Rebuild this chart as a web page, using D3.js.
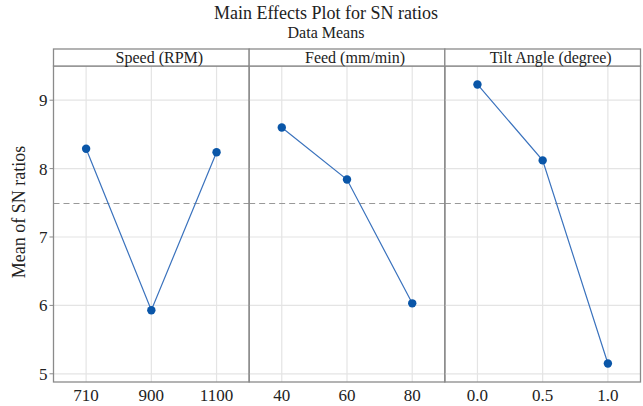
<!DOCTYPE html>
<html>
<head>
<meta charset="utf-8">
<script src="https://cdn.jsdelivr.net/npm/d3@7"></script>
<style>
    body { margin: 0; background: #fff; }
    svg { display: block; font-family: "Liberation Serif", "DejaVu Serif", serif; }
</style>
</head>
<body>
<svg id="chart" width="643" height="406"></svg>
<script>
// factor names and levels
const factors = ["Speed (RPM)", "Feed (mm/min)", "Tilt Angle (degree)"];
const speedLevels = ["710", "900", "1100"];
const feedLevels = ["40", "60", "80"];
const tiltLevels = ["0.0", "0.5", "1.0"];

// mean SN ratios per level
const speedMeans = [8.29, 5.93, 8.24];
const feedMeans = [8.60, 7.84, 6.03];
const tiltMeans = [9.23, 8.12, 5.15];

const overallMean = 7.49;
const yTicks = [5, 6, 7, 8, 9];

let panels = [
    { name: factors[0], levels: speedLevels, means: speedMeans },
    { name: factors[1], levels: feedLevels, means: feedMeans },
    { name: factors[2], levels: tiltLevels, means: tiltMeans }
];

let svg = d3.select("#chart");

let plotTop = 66, plotBottom = 382, headerTop = 49;
let left = 53.5, right = 640.5;

let panelScale = d3.scaleBand().domain(d3.range(panels.length)).range([left, right]);
let y = d3.scaleLinear().domain([4.88, 9.5]).range([plotBottom, plotTop]);

let lineColor = "#3a72bd";
let dotColor = "#0a56a8";
let gridColor = "#e4e4e4";
let frameColor = "#8a8a8a";

// titles
svg.append("text")
    .attr("x", 326).attr("y", 18.5)
    .attr("text-anchor", "middle")
    .attr("font-size", "18px")
    .attr("fill", "#222")
    .text("Main Effects Plot for SN ratios");

svg.append("text")
    .attr("x", 326).attr("y", 37.5)
    .attr("text-anchor", "middle")
    .attr("font-size", "16px")
    .attr("fill", "#222")
    .text("Data Means");

// y axis label
svg.append("text")
    .attr("transform", "translate(25," + 212 + ") rotate(-90)")
    .attr("text-anchor", "middle")
    .attr("font-size", "18px")
    .attr("fill", "#222")
    .text("Mean of SN ratios");

panels.forEach((p, i) => {
    let x0 = panelScale(i);
    let w = panelScale.bandwidth();
    let x = d3.scalePoint().domain(p.levels).range([x0, x0 + w]).padding(0.5);
    let g = svg.append("g");

    // horizontal grid
    g.selectAll(".hgrid").data(yTicks).enter().append("line")
        .attr("x1", x0).attr("x2", x0 + w)
        .attr("y1", d => y(d)).attr("y2", d => y(d))
        .attr("stroke", gridColor).attr("stroke-width", 1.2);

    // vertical grid
    g.selectAll(".vgrid").data(p.levels).enter().append("line")
        .attr("x1", d => x(d)).attr("x2", d => x(d))
        .attr("y1", plotTop).attr("y2", plotBottom)
        .attr("stroke", gridColor).attr("stroke-width", 1.2);

    // reference mean line
    g.append("line")
        .attr("x1", x0).attr("x2", x0 + w)
        .attr("y1", y(overallMean)).attr("y2", y(overallMean))
        .attr("stroke", "#999").attr("stroke-width", 1.2)
        .attr("stroke-dasharray", "6,4");

    // data line and points
    let pts = p.levels.map((l, k) => [x(l), y(p.means[k])]);
    g.append("path")
        .attr("d", d3.line()(pts))
        .attr("fill", "none")
        .attr("stroke", lineColor)
        .attr("stroke-width", 1.2);

    g.selectAll("circle").data(pts).enter().append("circle")
        .attr("cx", d => d[0]).attr("cy", d => d[1])
        .attr("r", 4.2)
        .attr("fill", dotColor);

    // x axis labels
    g.selectAll(".xlab").data(p.levels).enter().append("text")
        .attr("x", d => x(d)).attr("y", 401)
        .attr("text-anchor", "middle")
        .attr("font-size", "17px")
        .attr("fill", "#222")
        .text(d => d);

    // panel frame
    g.append("rect")
        .attr("x", x0).attr("y", plotTop)
        .attr("width", w).attr("height", plotBottom - plotTop)
        .attr("fill", "none")
        .attr("stroke", frameColor).attr("stroke-width", 1.3);

    // header strip
    g.append("rect")
        .attr("x", x0).attr("y", headerTop)
        .attr("width", w).attr("height", plotTop - headerTop)
        .attr("fill", "#fff")
        .attr("stroke", frameColor).attr("stroke-width", 1.3);

    g.append("text")
        .attr("x", x0 + w / 2 + 8).attr("y", plotTop - 3.5)
        .attr("text-anchor", "middle")
        .attr("font-size", "16px")
        .attr("fill", "#222")
        .text(p.name);
});

// y axis ticks and labels
let yAxis = svg.append("g").attr("transform", "translate(" + left + ",0)");
yAxis.selectAll("line").data(yTicks).enter().append("line")
    .attr("x1", -4).attr("x2", 0)
    .attr("y1", d => y(d)).attr("y2", d => y(d))
    .attr("stroke", frameColor);
yAxis.selectAll("text").data(yTicks).enter().append("text")
    .attr("x", -6).attr("y", d => y(d) + 6)
    .attr("text-anchor", "end")
    .attr("font-size", "17px")
    .attr("fill", "#222")
    .text(d => d);
</script>
</body>
</html>
